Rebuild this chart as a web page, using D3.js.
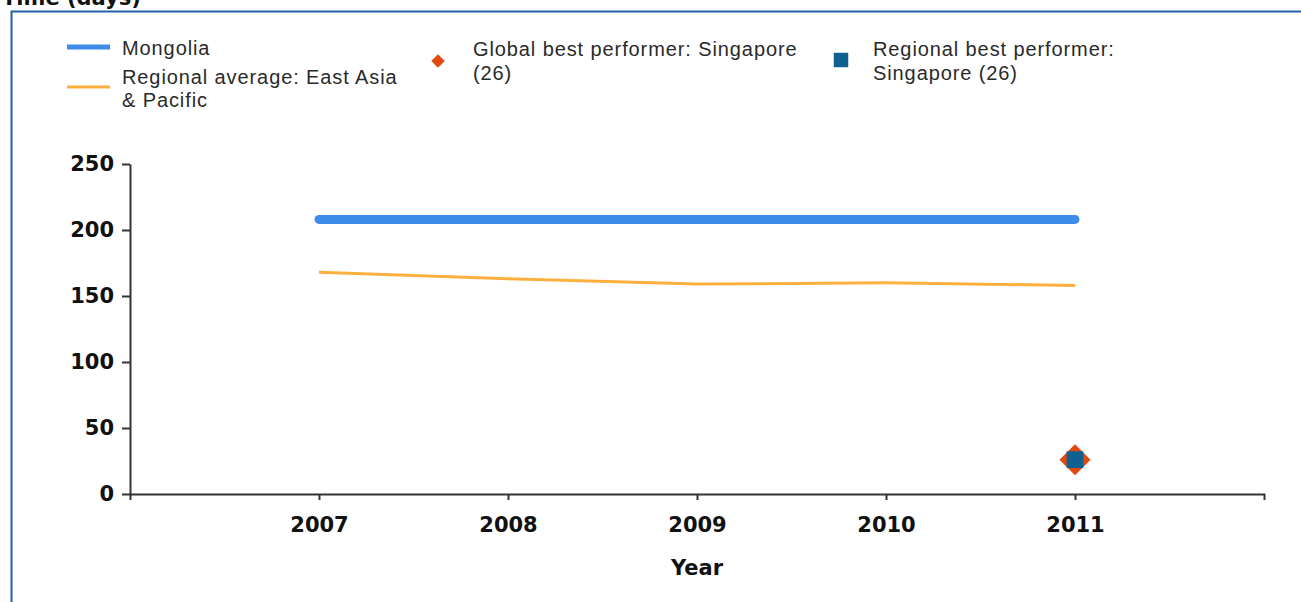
<!DOCTYPE html>
<html>
<head>
<meta charset="utf-8">
<script src="https://cdn.jsdelivr.net/npm/d3@7"></script>
<style>
  body { margin: 0; background: #fff; overflow: hidden; }
  text { font-family: "DejaVu Sans", Verdana, sans-serif; }
  .legend text { font-family: "Liberation Sans", Arial, sans-serif; font-size: 20px; letter-spacing: 0.9px; fill: #2a2a2a; }
</style>
</head>
<body>
<div id="chart-container"></div>
<script>
const years = [2007, 2008, 2009, 2010, 2011];
const mongolia = [208, 208, 208, 208, 208];
const regionalAvg = [168, 163, 159, 160, 158];
const globalBest = [{ year: 2011, value: 26 }];
const regionalBest = [{ year: 2011, value: 26 }];
const yTicks = [0, 50, 100, 150, 200, 250];

const width = 1301;
const height = 602;

const svg = d3.select('#chart-container')
  .append('svg')
  .attr('width', width)
  .attr('height', height);

// title, cut off at the top of the frame like the original
svg.append('text')
  .attr('x', 2)
  .attr('y', 5)
  .style('font-size', '21px')
  .style('font-weight', 'bold')
  .style('fill', '#111')
  .text('Time (days)');

// blue frame
svg.append('path')
  .attr('d', `M11.5,${height + 5} V11.5 H${width + 5}`)
  .attr('fill', 'none')
  .attr('stroke', '#2460a7')
  .attr('stroke-width', 2);

const x = d3.scaleLinear().domain([2006, 2012]).range([130, 1264]);
const y = d3.scaleLinear().domain([0, 250]).range([494, 164]);

const xAxis = svg.append('g')
  .attr('transform', `translate(0, ${y(0)})`)
  .call(d3.axisBottom(x).tickValues(years).tickFormat(d3.format('d')).tickSize(6).tickSizeOuter(6).tickPadding(17));

const yAxis = svg.append('g')
  .attr('transform', `translate(${x(2006)}, 0)`)
  .call(d3.axisLeft(y).tickValues(yTicks).tickSize(8).tickSizeOuter(0).tickPadding(8));

[xAxis, yAxis].forEach(g => {
  g.selectAll('path, line').attr('stroke', '#333').attr('stroke-width', 2);
  g.selectAll('text')
    .style('font-size', '21px')
    .style('font-weight', 'bold')
    .style('fill', '#111');
});

svg.append('text')
  .attr('x', x(2009))
  .attr('y', 575)
  .attr('text-anchor', 'middle')
  .style('font-size', '21px')
  .style('font-weight', 'bold')
  .style('fill', '#111')
  .text('Year');

const line = d3.line()
  .x((d, i) => x(years[i]))
  .y(d => y(d));

svg.append('path')
  .datum(regionalAvg)
  .attr('d', line)
  .attr('fill', 'none')
  .attr('stroke', '#fdb03e')
  .attr('stroke-width', 3);

svg.append('path')
  .datum(mongolia)
  .attr('d', line)
  .attr('fill', 'none')
  .attr('stroke', '#3f8be9')
  .attr('stroke-width', 9)
  .attr('stroke-linecap', 'round');

svg.selectAll('.global-best')
  .data(globalBest)
  .enter()
  .append('path')
  .attr('class', 'global-best')
  .attr('d', d3.symbol(d3.symbolSquare, 480)())
  .attr('transform', d => `translate(${x(d.year)}, ${y(d.value)}) rotate(45)`)
  .attr('fill', '#e3480f');

svg.selectAll('.regional-best')
  .data(regionalBest)
  .enter()
  .append('path')
  .attr('class', 'regional-best')
  .attr('d', d3.symbol(d3.symbolSquare, 280)())
  .attr('transform', d => `translate(${x(d.year)}, ${y(d.value)})`)
  .attr('fill', '#0f6193');

// legend
const legend = svg.append('g').attr('class', 'legend');

legend.append('line')
  .attr('x1', 67).attr('x2', 110).attr('y1', 47).attr('y2', 47)
  .attr('stroke', '#3f8be9').attr('stroke-width', 5);
legend.append('text').attr('x', 122).attr('y', 55).text('Mongolia');

legend.append('line')
  .attr('x1', 67).attr('x2', 110).attr('y1', 87).attr('y2', 87)
  .attr('stroke', '#fdb03e').attr('stroke-width', 3);
legend.append('text').attr('x', 122).attr('y', 84).text('Regional average: East Asia');
legend.append('text').attr('x', 122).attr('y', 107).text('& Pacific');

legend.append('path')
  .attr('d', d3.symbol(d3.symbolSquare, 90)())
  .attr('transform', 'translate(438, 61) rotate(45)')
  .attr('fill', '#e3480f');
legend.append('text').attr('x', 473).attr('y', 56).text('Global best performer: Singapore');
legend.append('text').attr('x', 473).attr('y', 80).text('(26)');

legend.append('path')
  .attr('d', d3.symbol(d3.symbolSquare, 210)())
  .attr('transform', 'translate(841, 60)')
  .attr('fill', '#0f6193');
legend.append('text').attr('x', 873).attr('y', 56).text('Regional best performer:');
legend.append('text').attr('x', 873).attr('y', 80).text('Singapore (26)');
</script>
</body>
</html>
